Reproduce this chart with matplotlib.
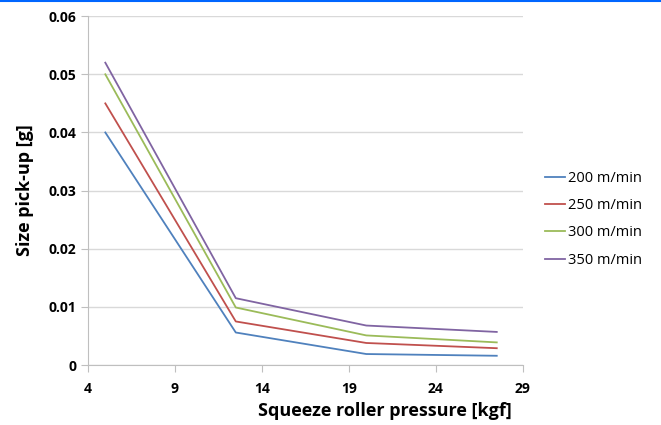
import matplotlib
matplotlib.use("Agg")
import matplotlib.pyplot as plt
from matplotlib.lines import Line2D

pressure = [5, 12.5, 20, 27.5]
speeds = ["200 m/min", "250 m/min", "300 m/min", "350 m/min"]
pickup_200 = [0.040, 0.0056, 0.0019, 0.0016]
pickup_250 = [0.045, 0.0075, 0.0038, 0.0029]
pickup_300 = [0.050, 0.0099, 0.0051, 0.0039]
pickup_350 = [0.052, 0.0115, 0.0068, 0.0057]

colors = ["#4F81BD", "#C0504D", "#9BBB59", "#8064A2"]

plt.rcParams['font.family'] = ['Open Sans', 'DejaVu Sans']

fig = plt.figure(figsize=(6.61, 4.25), dpi=100)
ax = fig.add_axes([0.133, 0.141, 0.658, 0.821])

for label, vals, c in zip(speeds, [pickup_200, pickup_250, pickup_300, pickup_350], colors):
    ax.plot(pressure, vals, color=c, lw=1.3, label=label)

ax.set_xlim(4, 29)
ax.set_ylim(0, 0.06)
ax.set_xticks([4, 9, 14, 19, 24, 29])
ax.set_yticks([0, 0.01, 0.02, 0.03, 0.04, 0.05, 0.06])
ax.set_yticklabels(["0", "0.01", "0.02", "0.03", "0.04", "0.05", "0.06"])
ax.grid(axis='y', color='#d9d9d9', lw=1)
ax.set_axisbelow(True)
for s in ['top', 'right']:
    ax.spines[s].set_visible(False)
for s in ['left', 'bottom']:
    ax.spines[s].set_color('#bfbfbf')
ax.tick_params(axis='both', colors='#bfbfbf', length=5, labelcolor='black', labelsize=10)
ax.tick_params(axis='x', pad=7)
for t in ax.get_xticklabels() + ax.get_yticklabels():
    t.set_fontweight('bold')

ax.set_xlabel("Squeeze roller pressure [kgf]", fontsize=13, fontweight='bold')
ax.xaxis.set_label_coords(0.683, -0.105)
ax.set_ylabel("Size pick-up [g]", fontsize=13, fontweight='bold', labelpad=10)

ax.legend(loc='center left', bbox_to_anchor=(1.02, 0.418), frameon=False, fontsize=10.5,
          handlelength=1.4, handletextpad=0.2, labelspacing=0.85)

fig.add_artist(Line2D([0, 1], [0.998, 0.998], color='#0066ff', lw=1.5, transform=fig.transFigure))

fig.savefig("out.png", dpi=100)
